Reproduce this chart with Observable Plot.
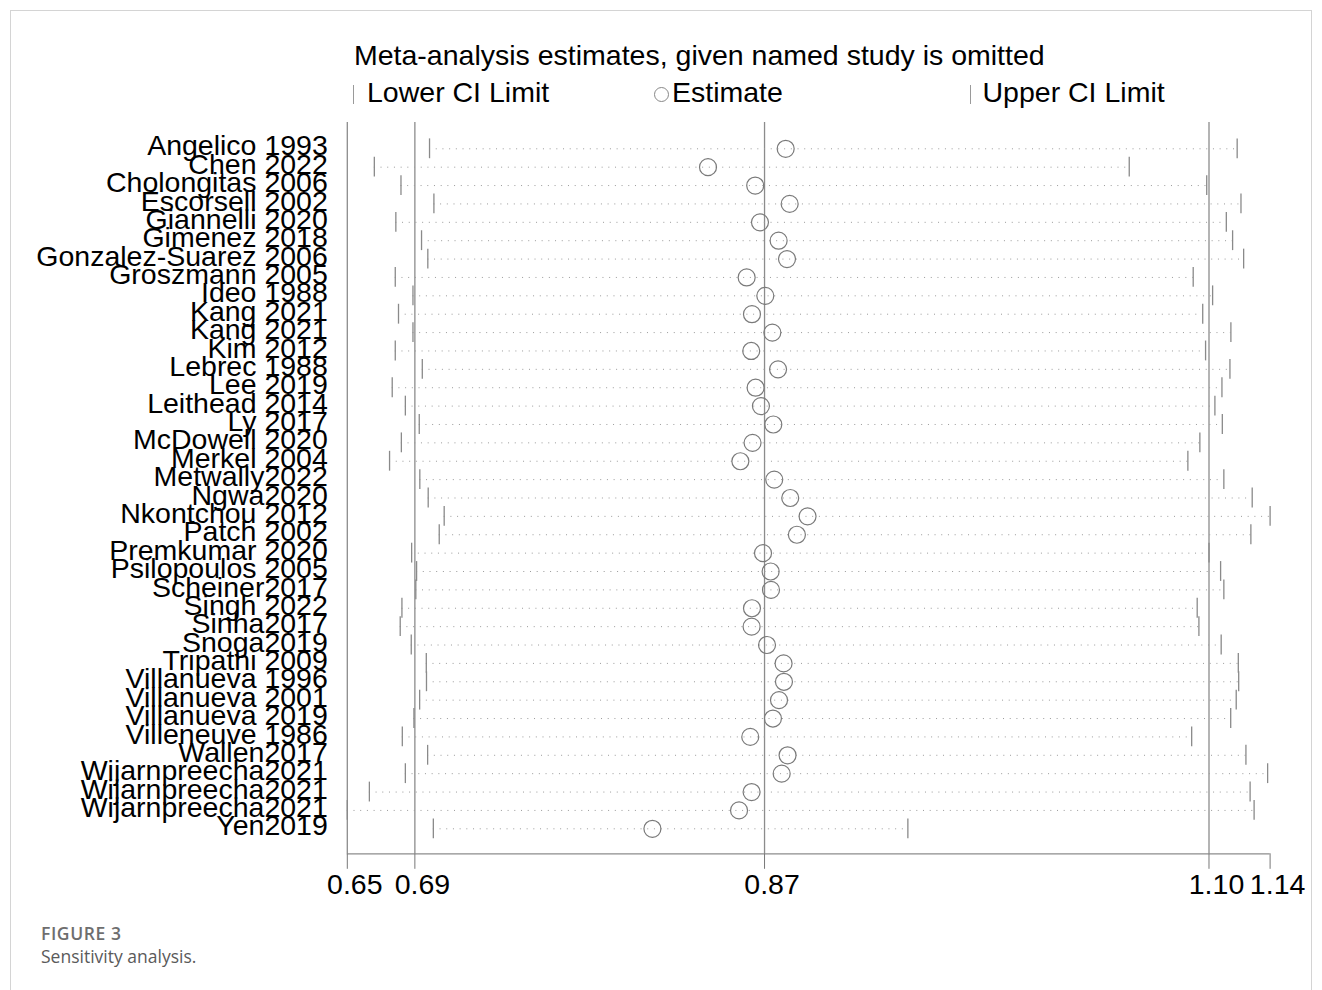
<!DOCTYPE html>
<html>
<head>
<meta charset="utf-8">
<script src="https://cdn.jsdelivr.net/npm/d3@7"></script>
<script src="https://cdn.jsdelivr.net/npm/@observablehq/plot@0.6"></script>
<style>
  body { margin: 0; background: #fff; }
  #page { position: relative; width: 1322px; height: 990px; overflow: hidden; font-family: "Liberation Sans", Arial, sans-serif; color: #000; }
  #frame { position: absolute; left: 10px; top: 10px; width: 1300px; height: 1000px; border: 1px solid #d4d4d4; border-bottom: none; }
  #title { position: absolute; left: 354px; top: 41px; font-size: 28.5px; line-height: 28.5px; white-space: nowrap; }
  .legtext { position: absolute; top: 78px; font-size: 28.5px; line-height: 28.5px; white-space: nowrap; }
  .bar { position: absolute; top: 85px; width: 1px; height: 19px; background: #9a9a9a; }
  .circ { position: absolute; box-sizing: border-box; left: 653.5px; top: 86.5px; width: 15px; height: 15px; border: 1px solid #888; border-radius: 50%; }
  #chart { position: absolute; left: 0; top: 110px; }
  .cap { position: absolute; left: 41px; font-family: "Open Sans", "Noto Sans", sans-serif; font-size: 17.5px; line-height: 17.5px; white-space: nowrap; }
  #fig { top: 924.5px; font-weight: 600; color: #6e6e6e; letter-spacing: 0.6px; }
  #sub { top: 947.8px; color: #5a5a5a; }
</style>
</head>
<body>
<div id="page">
  <div id="frame"></div>
  <div id="title">Meta-analysis estimates, given named study is omitted</div>
  <div class="bar" style="left:353px"></div>
  <div class="legtext" style="left:367px">Lower CI Limit</div>
  <div class="circ"></div>
  <div class="legtext" style="left:672px">Estimate</div>
  <div class="bar" style="left:970px"></div>
  <div class="legtext" style="left:982.5px">Upper CI Limit</div>
  <div id="chart"></div>
  <div class="cap" id="fig">FIGURE 3</div>
  <div class="cap" id="sub">Sensitivity analysis.</div>
</div>
<script>
const studies = [
  "Angelico 1993","Chen 2022","Cholongitas 2006","Escorsell 2002","Giannelli 2020",
  "Gimenez 2018","Gonzalez-Suarez 2006","Groszmann 2005","Ideo 1988","Kang 2021",
  "Kang 2021","Kim 2012","Lebrec 1988","Lee 2019","Leithead 2014","Ly 2017",
  "McDowell 2020","Merkel 2004","Metwally2022","Ngwa2020","Nkontchou 2012",
  "Patch 2002","Premkumar 2020","Psilopoulos 2005","Scheiner2017","Singh 2022",
  "Sinha2017","Snoga2019","Tripathi 2009","Villanueva 1996","Villanueva 2001",
  "Villanueva 2019","Villeneuve 1986","Wallen2017","Wijarnpreecha2021",
  "Wijarnpreecha2021","Wijarnpreecha2021","Yen2019"
];
const lower = [
  0.6947,0.6657,0.6797,0.6970,0.6770,0.6905,0.6938,0.6767,0.6860,0.6784,
  0.6860,0.6767,0.6909,0.6751,0.6820,0.6893,0.6799,0.6737,0.6896,0.6940,
  0.7024,0.6998,0.6853,0.6879,0.6875,0.6802,0.6793,0.6851,0.6930,0.6931,
  0.6895,0.6865,0.6804,0.6937,0.6820,0.6631,0.6515,0.6967
];
const estimate = [
  0.8818,0.8410,0.8658,0.8839,0.8683,0.8781,0.8825,0.8613,0.8711,0.8641,
  0.8748,0.8637,0.8778,0.8660,0.8688,0.8753,0.8644,0.8580,0.8758,0.8842,
  0.8933,0.8877,0.8699,0.8739,0.8741,0.8641,0.8639,0.8720,0.8807,0.8809,
  0.8783,0.8751,0.8632,0.8828,0.8797,0.8639,0.8573,0.8118
];
const upper = [
  1.1190,1.0623,1.1030,1.1210,1.1133,1.1166,1.1224,1.0959,1.1061,1.1009,
  1.1157,1.1024,1.1152,1.1110,1.1073,1.1112,1.0994,1.0931,1.1120,1.1269,
  1.1363,1.1262,1.1042,1.1103,1.1120,1.0980,1.0989,1.1106,1.1196,1.1198,
  1.1185,1.1156,1.0951,1.1236,1.1350,1.1258,1.1279,0.9460
];
// overall pooled estimate: lower CI, estimate, upper CI
const overall = [0.687, 0.8707, 1.1042];

const n = studies.length;
const data = studies.map((s, i) => ({i, study: s, lo: lower[i], est: estimate[i], hi: upper[i]}));
const xMin = d3.min(lower), xMax = d3.max(upper);
const tickValues = [xMin, ...overall, xMax];
const yBottom = n - 1 + 1.36, yTop = -1.431;
const fmt = d3.format(".2f");

const chart = Plot.plot({
  width: 1322,
  height: 800,
  marginLeft: 346.8,
  marginRight: 52.4,
  marginTop: 12,
  marginBottom: 56.7,
  style: {fontFamily: "'Liberation Sans', Arial, sans-serif", background: "transparent", color: "#000"},
  x: {type: "linear", domain: [xMin, xMax]},
  y: {type: "linear", domain: [yBottom, yTop]},
  marks: [
    Plot.ruleX([xMin, ...overall], {stroke: "#8c8c8c", strokeWidth: 1.3}),
    Plot.ruleY([yBottom], {stroke: "#8c8c8c", strokeWidth: 1.3}),
    Plot.ruleY(data, {y: "i", x1: "lo", x2: "hi", stroke: "#9a9a9a", strokeWidth: 1, strokeDasharray: "1 5.7"}),
    Plot.ruleX(data, {x: "lo", y1: d => d.i - 0.54, y2: d => d.i + 0.54, stroke: "#8a8a8a", strokeWidth: 1.3}),
    Plot.ruleX(data, {x: "hi", y1: d => d.i - 0.54, y2: d => d.i + 0.54, stroke: "#8a8a8a", strokeWidth: 1.3}),
    Plot.dot(data, {x: "est", y: "i", r: 8.5, stroke: "#7a7a7a", strokeWidth: 1.2, fill: "none"}),
    Plot.axisY(d3.range(n), {
      tickFormat: i => studies[i], tickSize: 0, tickPadding: 19.5,
      fontSize: 28.5, label: null, dy: -2.5
    }),
    // tick marks only
    Plot.axisX(tickValues, {
      tickFormat: () => "", tickSize: 15.5, label: null, stroke: "#777"
    }),
    // tick labels only (offset slightly right as in the original)
    Plot.axisX(tickValues, {
      tickFormat: fmt, tickSize: 0, tickPadding: 19.5,
      fontSize: 28.5, label: null, dx: 7.5
    })
  ]
});
document.getElementById("chart").appendChild(chart);
</script>
</body>
</html>
